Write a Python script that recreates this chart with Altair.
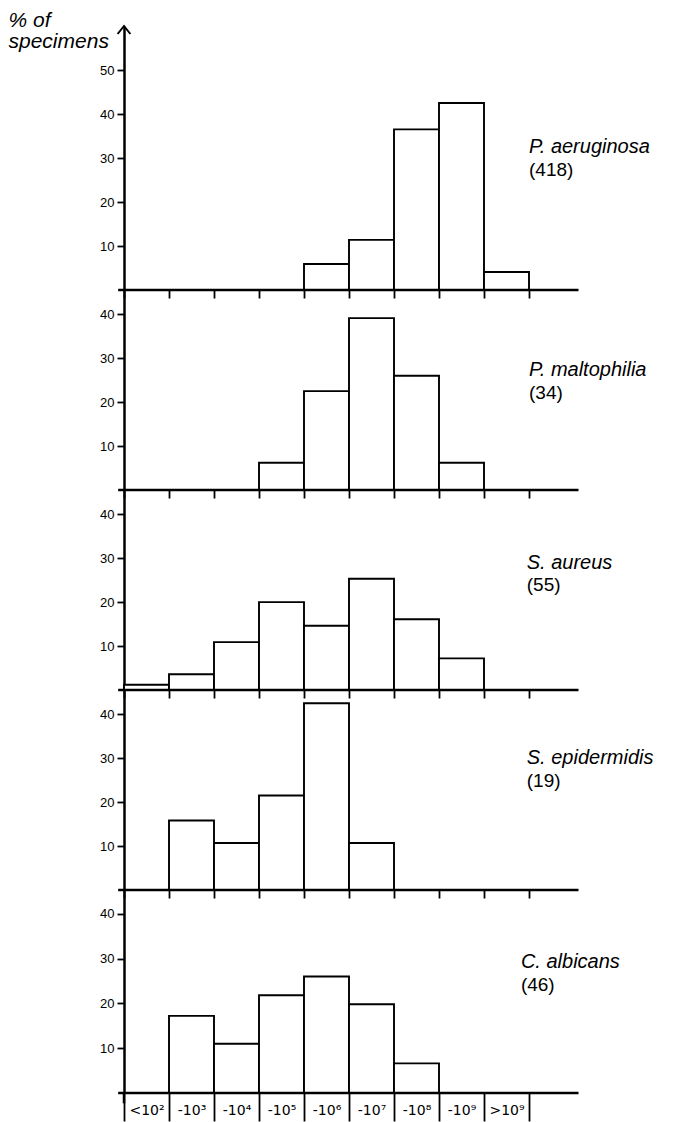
import json
import pandas as pd
import altair as alt

# ---- data ----
bin_labels = ["<10²", "-10³", "-10⁴", "-10⁵", "-10⁶", "-10⁷", "-10⁸", "-10⁹", ">10⁹"]
species = ["P. aeruginosa", "P. maltophilia", "S. aureus", "S. epidermidis", "C. albicans"]
counts = ["(418)", "(34)", "(55)", "(19)", "(46)"]

p_aeruginosa = [0, 0, 0, 0, 5.9, 11.4, 36.5, 42.5, 4.1]
p_maltophilia = [0, 0, 0, 6.2, 22.5, 39.1, 26.0, 6.2, 0]
s_aureus = [1.2, 3.6, 10.9, 20.0, 14.6, 25.3, 16.1, 7.2, 0]
s_epidermidis = [0, 15.8, 10.7, 21.5, 42.5, 10.7, 0, 0, 0]
c_albicans = [0, 17.2, 11.0, 21.8, 26.0, 19.8, 6.6, 0, 0]

series = [p_aeruginosa, p_maltophilia, s_aureus, s_epidermidis, c_albicans]

# label placement (value units) for name line / count line
name_y = [32.5, 27.3, 29.0, 30.0, 29.2]
count_y = [27.3, 22.1, 23.8, 24.8, 24.0]
name_x = [9.0, 9.0, 8.95, 8.95, 8.82]

FONT = "Liberation Sans"
LABFONT = "DejaVu Sans"
N = len(bin_labels)
XDOM = [0, 10]


def panel(i):
    last = i == len(series) - 1
    first = i == 0
    if first:
        ymax, height = 60, 264
    elif last:
        ymax, height = 45.3, 203
    else:
        ymax, height = 45.5, 200
    yticks = [10, 20, 30, 40, 50] if first else [10, 20, 30, 40]

    xscale = alt.Scale(domain=XDOM, nice=False, zero=False)
    yscale = alt.Scale(domain=[0, ymax], nice=False, zero=True)

    yaxis_kw = dict(
        values=yticks, tickSize=7, tickWidth=1.8, tickColor="black",
        domain=True, domainColor="black", domainWidth=2.5,
        labelFont=FONT, labelFontSize=13, labelColor="black", labelPadding=3,
        grid=False,
    )
    if first:
        yaxis = alt.Axis(
            title=["% of", "specimens"], titleAngle=0, titleAlign="left",
            titleBaseline="alphabetic", titleX=-116, titleY=0,
            titleFont=FONT, titleFontSize=21, titleFontStyle="italic",
            titleFontWeight="normal", titleLineHeight=21, titleColor="black",
            **yaxis_kw,
        )
    else:
        yaxis = alt.Axis(title=None, **yaxis_kw)

    xaxis_ticks = alt.Axis(
        values=list(range(N + 1)), labels=False, domain=False, ticks=True,
        tickSize=28 if last else 8, tickWidth=1.8, tickColor="black",
        title=None, grid=False, orient="bottom",
    )

    if last:
        label_axis = alt.Axis(
            values=[k + 0.5 for k in range(N)], ticks=False, tickSize=0, domain=False,
            labelExpr=json.dumps(bin_labels, ensure_ascii=False) + "[floor(datum.value)]",
            labelFont=LABFONT, labelFontSize=14, labelColor="black", labelPadding=10,
            labelFlush=False, labelOverlap=False, title=None, grid=False, orient="bottom",
        )
        ax_bars, ax_base, ax_other = xaxis_ticks, label_axis, None
    else:
        ax_bars = ax_base = ax_other = xaxis_ticks

    vals = series[i]
    df = pd.DataFrame({
        "x0": list(range(N)),
        "x1": [k + 1 for k in range(N)],
        "v": vals,
        "z": [0] * N,
    })
    df = df[df["v"] > 0]

    bars = alt.Chart(df).mark_bar(fill="white", stroke="black", strokeWidth=1.9).encode(
        x=alt.X("x0:Q", scale=xscale, axis=ax_bars),
        x2="x1:Q",
        y=alt.Y("v:Q", scale=yscale, axis=yaxis),
        y2="z:Q",
    )

    base_df = pd.DataFrame({"x0": [-0.13], "x1": [10.1], "v": [0]})
    baseline = alt.Chart(base_df).mark_rule(color="black", strokeWidth=2.5).encode(
        x=alt.X("x0:Q", scale=xscale, axis=ax_base),
        x2="x1:Q",
        y=alt.Y("v:Q", scale=yscale, axis=yaxis),
    )

    name_df = pd.DataFrame({"x0": [name_x[i]], "v": [name_y[i]], "t": [species[i]]})
    count_df = pd.DataFrame({"x0": [name_x[i]], "v": [count_y[i]], "t": [counts[i]]})
    name_txt = alt.Chart(name_df).mark_text(
        align="left", baseline="middle", font=FONT, fontSize=20, fontStyle="italic", color="black"
    ).encode(x=alt.X("x0:Q", scale=xscale, axis=ax_other),
             y=alt.Y("v:Q", scale=yscale, axis=yaxis), text="t:N")
    count_txt = alt.Chart(count_df).mark_text(
        align="left", baseline="middle", font=FONT, fontSize=19, color="black"
    ).encode(x=alt.X("x0:Q", scale=xscale, axis=ax_other),
             y=alt.Y("v:Q", scale=yscale, axis=yaxis), text="t:N")

    layers = [bars, baseline, name_txt, count_txt]

    if first:
        arrow_df = pd.DataFrame({"x0": [0], "v": [ymax]})
        arrow = alt.Chart(arrow_df).mark_point(
            shape="M-0.8,1L0,0L0.8,1", size=256, filled=False, stroke="black",
            strokeWidth=2, opacity=1,
        ).encode(x=alt.X("x0:Q", scale=xscale, axis=ax_other),
                 y=alt.Y("v:Q", scale=yscale, axis=yaxis))
        layers.append(arrow)

    if last:
        ext_df = pd.DataFrame({"x0": [0], "v": [0], "z": [-2.3]})
        ext = alt.Chart(ext_df).mark_rule(color="black", strokeWidth=2.5).encode(
            x=alt.X("x0:Q", scale=xscale, axis=ax_other),
            y=alt.Y("v:Q", scale=yscale, axis=yaxis),
            y2="z:Q",
        )
        layers.append(ext)

    ch = alt.layer(*layers).properties(width=450, height=height)
    if last:
        ch = ch.resolve_axis(x="independent")
    return ch


chart = alt.vconcat(
    *[panel(i) for i in range(len(series))], spacing=0, bounds="flush"
).resolve_scale(x="independent", y="independent").configure_view(
    stroke=None
).properties(padding={"top": 1, "left": 0, "right": 0, "bottom": 0}, background="white")

chart.save("out.html", embed_options={"renderer": "svg", "actions": False})
